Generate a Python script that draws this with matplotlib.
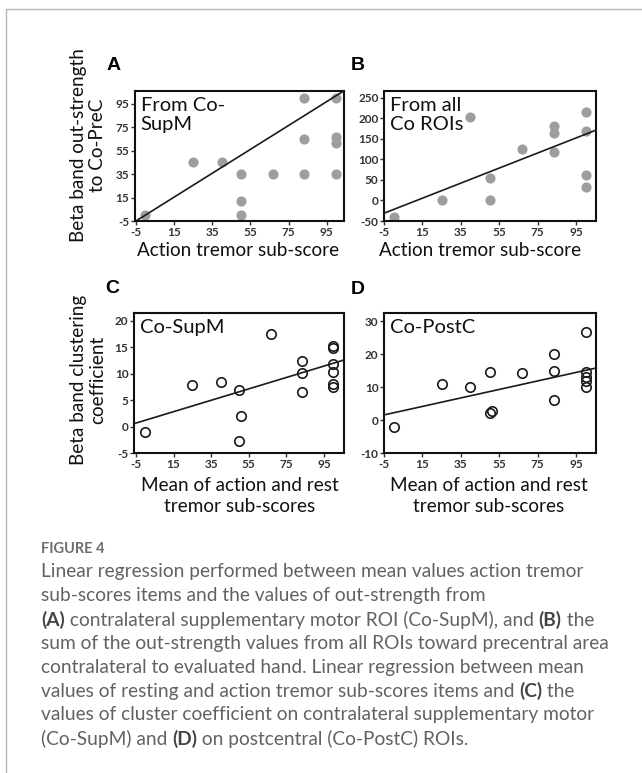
import numpy as np
import matplotlib
matplotlib.use('Agg')
import matplotlib.pyplot as plt
from matplotlib.lines import Line2D
from matplotlib.offsetbox import TextArea, HPacker, AnnotationBbox

plt.rcParams['font.family'] = ['Lato', 'DejaVu Sans']

# Data
# (A) action tremor sub-score vs out-strength from Co-SupM
A_x = [0, 25, 40, 50, 50, 50, 66.7, 83.3, 83.3, 83.3, 100, 100, 100, 100]
A_y = [0, 45, 45, 35, 12.5, 0, 35, 100, 65, 35, 100, 67, 62, 35]
A_fit = (1.02, 0.1)    # slope, intercept

# (B) action tremor sub-score vs out-strength from all Co ROIs
B_x = [0, 25, 40, 50, 50, 66.7, 83.3, 83.3, 83.3, 100, 100, 100, 100]
B_y = [-40, 0, 203, 0, 55, 125, 180, 163, 118, 215, 168, 62, 33]
B_fit = (1.83, -22)

# (C) mean tremor sub-scores vs clustering coefficient Co-SupM
C_x = [0, 25, 40, 50, 51, 50, 67, 83.3, 83.3, 83.3, 100, 100, 100, 100, 100, 100]
C_y = [-1, 7.8, 8.5, 7, 2, -2.8, 17.5, 12.5, 10.2, 6.5, 15.2, 14.8, 11.8, 10.3, 8, 7.5]
C_fit = (0.108, 1.2)

# (D) mean tremor sub-scores vs clustering coefficient Co-PostC
D_x = [0, 25, 40, 50, 50, 51, 67, 83.3, 83.3, 83.3, 100, 100, 100, 100, 100]
D_y = [-2, 11, 10, 14.6, 2.2, 2.8, 14.4, 20, 15, 6, 26.8, 14.5, 13, 12, 10]
D_fit = (0.129, 2.2)

x_ticks = [-5, 15, 35, 55, 75, 95]
A_yticks = [-5, 15, 35, 55, 75, 95]
B_yticks = [-50, 0, 50, 100, 150, 200, 250]
C_yticks = [-5, 0, 5, 10, 15, 20]
D_yticks = [-10, 0, 10, 20, 30]

W, H = 642, 773
fig = plt.figure(figsize=(W / 100, H / 100), dpi=100)


def box(x0, y0, x1, y1):
    # pixel box (top-left origin) -> figure fraction
    return [x0 / W, 1 - y1 / H, (x1 - x0) / W, (y1 - y0) / H]


def ftext(x, y, s, **kw):
    fig.text(x / W, 1 - y / H, s, **kw)


def panel(rect, xs, ys, fit, xlim, ylim, yticks, note, filled):
    ax = fig.add_axes(rect)
    if filled:
        ax.plot(xs, ys, 'o', color='#9e9e9e', markersize=7.3, markeredgewidth=0, zorder=2)
    else:
        ax.plot(xs, ys, 'o', mfc='none', mec='#1a1a1a', markersize=6.8, markeredgewidth=1.2, zorder=2)
    lx = np.array(xlim)
    ax.plot(lx, fit[0] * lx + fit[1], color='#1a1a1a', lw=1.2, zorder=3, clip_on=True)
    ax.set_xlim(xlim)
    ax.set_ylim(ylim)
    ax.set_xticks(x_ticks)
    ax.set_xticklabels([str(t) for t in x_ticks], fontweight='bold')
    ax.set_yticks(yticks)
    ax.set_yticklabels([str(t) for t in yticks], fontweight='bold')
    ax.tick_params(direction='out', length=3, width=1, labelsize=8.5,
                   colors='#333333', pad=1)
    for sp in ax.spines.values():
        sp.set_linewidth(1.5)
        sp.set_color('#111111')
    ax.annotate(note, xy=(0, 1), xycoords='axes fraction', xytext=(4, -4),
                textcoords='offset points', va='top', ha='left',
                fontsize=14.5, linespacing=1.2, color='#111111')
    return ax


panel(box(135, 91, 344, 221), A_x, A_y, A_fit, (-5.5, 104), (-5, 106), A_yticks,
      'From Co-\nSupM', True)
panel(box(384, 91, 596, 221), B_x, B_y, B_fit, (-5, 105.4), (-50, 266), B_yticks,
      'From all\nCo ROIs', True)
panel(box(134, 313, 344, 453), C_x, C_y, C_fit, (-6, 105.6), (-5, 21.5), C_yticks,
      'Co-SupM', False)
panel(box(384, 313, 596, 453), D_x, D_y, D_fit, (-5, 105.4), (-10, 32.5), D_yticks,
      'Co-PostC', False)

# panel letters
for lab, x, y in [('A', 114, 66), ('B', 358, 66), ('C', 112, 288), ('D', 358, 289)]:
    ftext(x, y, lab, fontsize=14, fontweight='bold', family='Liberation Sans',
          ha='center', va='center')

lab_kw = dict(fontsize=13.6, color='#111111', ha='center', va='center', linespacing=1.3)
ylab_kw = dict(lab_kw, linespacing=1.12)
ftext(88, 145, 'Beta band out-strength\nto Co-PreC', rotation=90, **ylab_kw)
ftext(88, 380, 'Beta band clustering\ncoefficient', rotation=90, **ylab_kw)
ftext(238, 251, 'Action tremor sub-score', **lab_kw)
ftext(480, 251, 'Action tremor sub-score', **lab_kw)
ftext(240, 496, 'Mean of action and rest\ntremor sub-scores', **lab_kw)
ftext(489, 496, 'Mean of action and rest\ntremor sub-scores', **lab_kw)

# card frame
fig.add_artist(Line2D([6 / W, 6 / W, 1], [0, 1 - 9 / H, 1 - 9 / H],
                      transform=fig.transFigure, color='#b5b5b5', lw=1))

# caption
ftext(41, 549, 'FIGURE 4', fontsize=10.5, fontweight='bold', color='#6e6e6e',
      ha='left', va='center')

cap_lines = [
    [('Linear regression performed between mean values action tremor', False)],
    [('sub-scores items and the values of out-strength from', False)],
    [('(A)', True), (' contralateral supplementary motor ROI (Co-SupM), and ', False),
     ('(B)', True), (' the', False)],
    [('sum of the out-strength values from all ROIs toward precentral area', False)],
    [('contralateral to evaluated hand. Linear regression between mean', False)],
    [('values of resting and action tremor sub-scores items and ', False),
     ('(C)', True), (' the', False)],
    [('values of cluster coefficient on contralateral supplementary motor', False)],
    [('(Co-SupM) and ', False), ('(D)', True), (' on postcentral (Co-PostC) ROIs.', False)],
]
for i, parts in enumerate(cap_lines):
    areas = []
    for s, b in parts:
        areas.append(TextArea(s, textprops=dict(
            fontsize=13.8, color='#444444' if b else '#626262',
            fontweight='bold' if b else 'normal')))
    pack = HPacker(children=areas, pad=0, sep=0, align='baseline')
    ab = AnnotationBbox(pack, (41, H - (572 + i * 23.8)), xycoords='figure pixels',
                        box_alignment=(0, 0.5), frameon=False, pad=0)
    fig.add_artist(ab)

fig.savefig('out.png', dpi=100)
